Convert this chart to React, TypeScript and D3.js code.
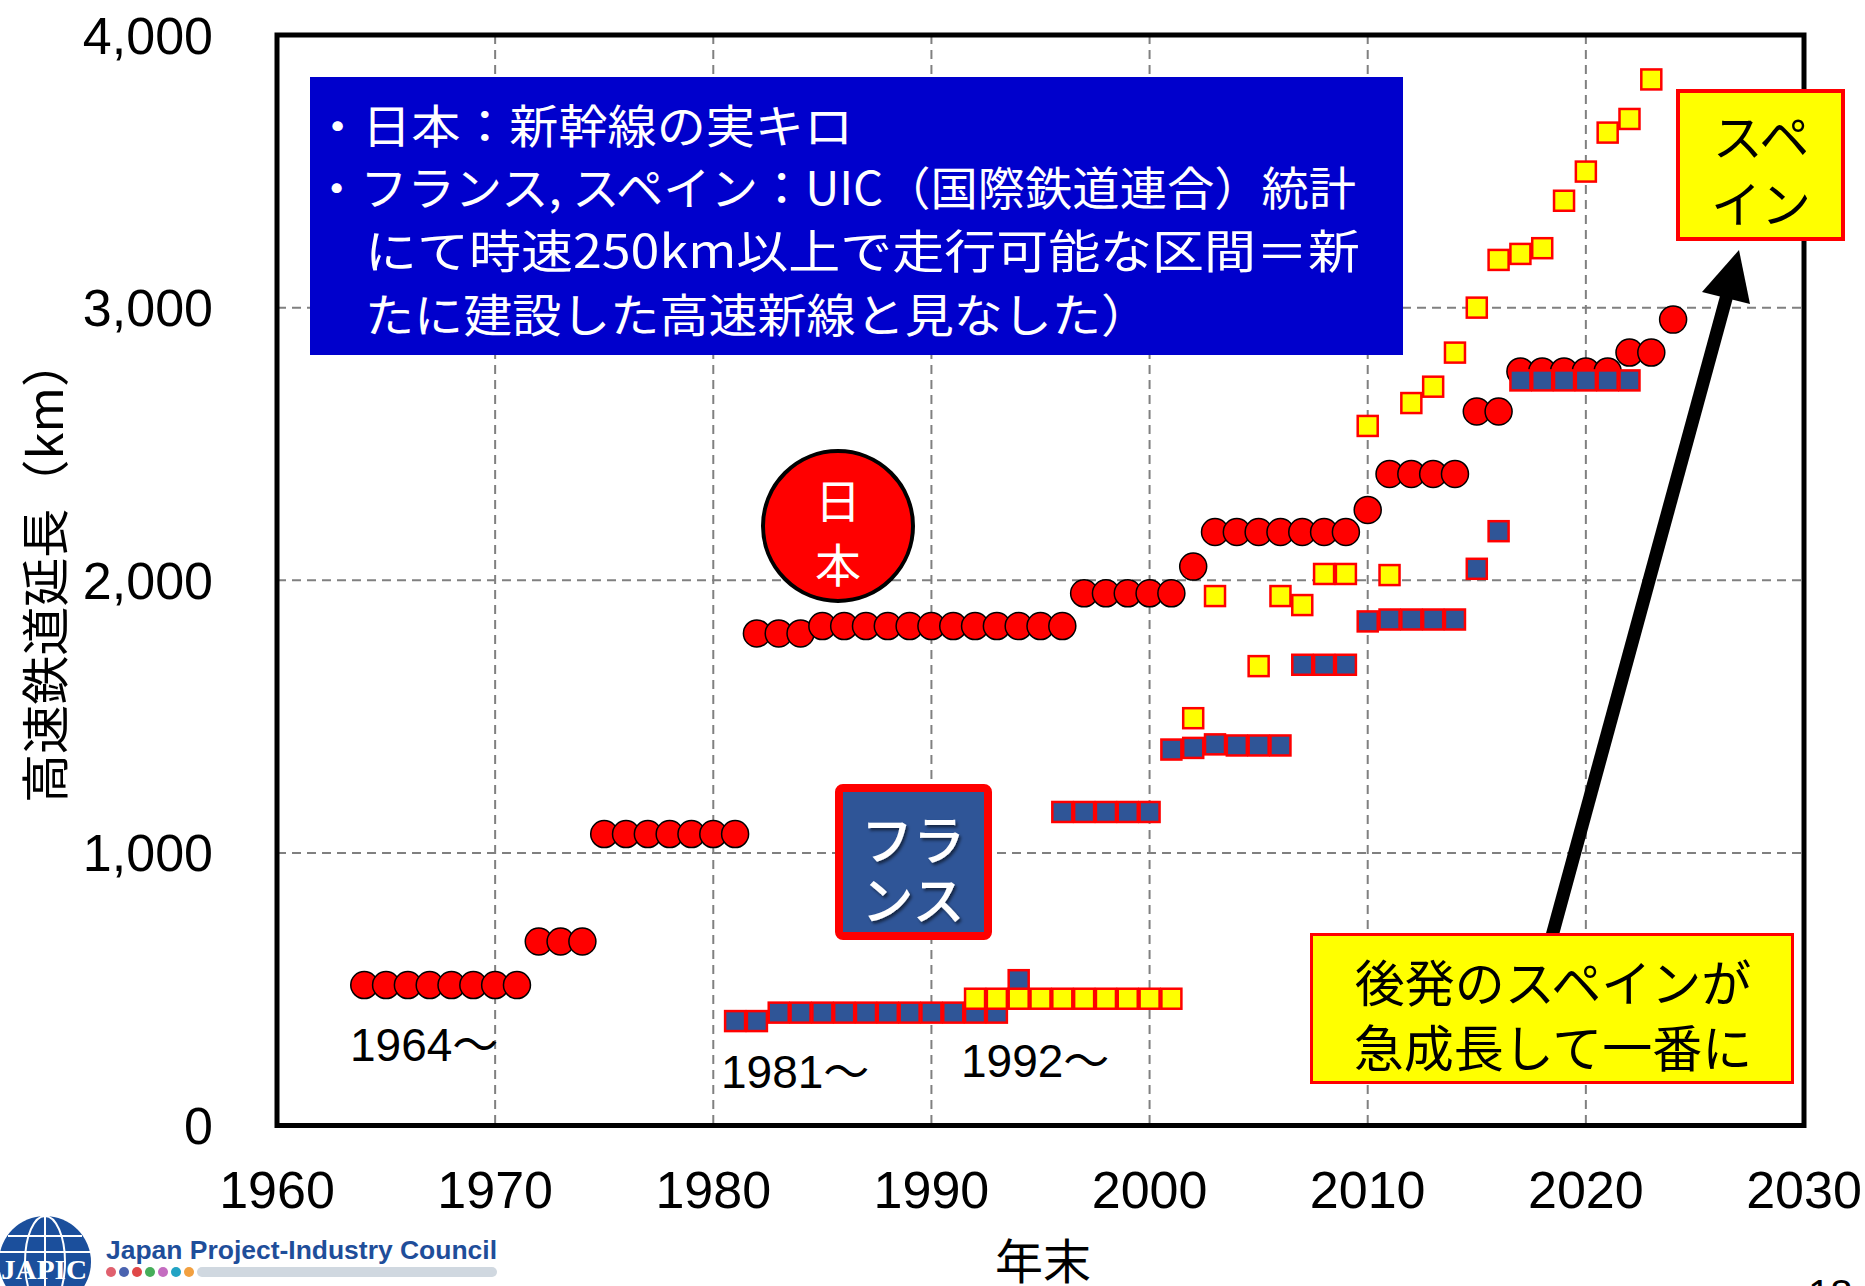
import React from "react";
import * as d3 from "d3";

// axis ticks
const yearTicks = [1960, 1970, 1980, 1990, 2000, 2010, 2020, 2030];
const kmTicks = [0, 1000, 2000, 3000, 4000];
const gridYears = [1970, 1980, 1990, 2000, 2010, 2020];
const gridKm = [1000, 2000, 3000];

// 日本 (新幹線 実キロ)
const japanYears = [
  1964, 1965, 1966, 1967, 1968, 1969, 1970, 1971, 1972, 1973, 1974, 1975, 1976,
  1977, 1978, 1979, 1980, 1981, 1982, 1983, 1984, 1985, 1986, 1987, 1988, 1989,
  1990, 1991, 1992, 1993, 1994, 1995, 1996, 1997, 1998, 1999, 2000, 2001, 2002,
  2003, 2004, 2005, 2006, 2007, 2008, 2009, 2010, 2011, 2012, 2013, 2014, 2015,
  2016, 2017, 2018, 2019, 2020, 2021, 2022, 2023, 2024,
];
const japanKm = [
  515, 515, 515, 515, 515, 515, 515, 515, 675, 675, 675, 1069, 1069,
  1069, 1069, 1069, 1069, 1069, 1805, 1805, 1805, 1832, 1832, 1832, 1832, 1832,
  1832, 1832, 1832, 1832, 1832, 1832, 1832, 1952, 1952, 1952, 1952, 1952, 2050,
  2177, 2177, 2177, 2177, 2177, 2177, 2177, 2258, 2390, 2390, 2390, 2390, 2619,
  2619, 2766, 2766, 2766, 2766, 2766, 2835, 2835, 2956,
];

// フランス (UIC)
const franceYears = [
  1981, 1982, 1983, 1984, 1985, 1986, 1987, 1988, 1989, 1990, 1991, 1992, 1993,
  1994, 1996, 1997, 1998, 1999, 2000, 2001, 2002, 2003, 2004, 2005, 2006, 2007,
  2008, 2009, 2010, 2011, 2012, 2013, 2014, 2015, 2016, 2017, 2018, 2019, 2020,
  2021, 2022,
];
const franceKm = [
  383, 383, 414, 414, 414, 414, 414, 414, 414, 414, 414, 414, 414,
  533, 1150, 1150, 1150, 1150, 1150, 1379, 1385, 1398, 1394, 1394, 1394, 1690,
  1690, 1690, 1849, 1856, 1856, 1856, 1856, 2042, 2180, 2733, 2733, 2733, 2733,
  2733, 2733,
];

// スペイン (UIC)
const spainYears = [
  1992, 1993, 1994, 1995, 1996, 1997, 1998, 1999, 2000, 2001, 2002, 2003, 2005,
  2006, 2007, 2008, 2009, 2010, 2011, 2012, 2013, 2014, 2015, 2016, 2017, 2018,
  2019, 2020, 2021, 2022, 2023,
];
const spainKm = [
  465, 465, 465, 465, 465, 465, 465, 465, 465, 465, 1494, 1942, 1685,
  1942, 1909, 2023, 2023, 2566, 2019, 2650, 2710, 2835, 3000, 3175, 3197, 3218,
  3392, 3499, 3642, 3692, 3837,
];

const noteLines = [
  "・日本：新幹線の実キロ",
  "・フランス, スペイン：UIC（国際鉄道連合）統計",
  "にて時速250km以上で走行可能な区間＝新",
  "たに建設した高速新線と見なした）",
];

const JP = "'Noto Sans CJK JP', 'Noto Sans CJK SC', sans-serif";
const LAT = "'Liberation Sans', Arial, 'Noto Sans CJK JP', sans-serif";

const x = d3.scaleLinear().domain([1960, 2030]).range([277, 1804]);
const y = d3.scaleLinear().domain([0, 4000]).range([1125.5, 35]);
const fmt = d3.format(",");

const App = () => {
  const sq = 20;
  const left = x.range()[0];
  const right = x.range()[1];
  const bottom = y.range()[0];
  const top = y.range()[1];

  return (
    <div style={{ position: "absolute", left: 0, top: 0 }}>
      <svg width={1865} height={1286} style={{ display: "block", background: "#fff" }}>
        <defs>
          <filter id="shadow" x="-20%" y="-20%" width="140%" height="140%">
            <feDropShadow dx="2" dy="2.5" stdDeviation="1.5" floodColor="#000" floodOpacity="0.55" />
          </filter>
        </defs>

        {/* grid */}
        {gridYears.map((g) => (
          <line key={"gx" + g} x1={x(g)} x2={x(g)} y1={top} y2={bottom}
            stroke="#808080" strokeWidth={2} strokeDasharray="9 6" />
        ))}
        {gridKm.map((g) => (
          <line key={"gy" + g} x1={left} x2={right} y1={y(g)} y2={y(g)}
            stroke="#808080" strokeWidth={2} strokeDasharray="9 6" />
        ))}

        {/* note box */}
        <rect x={310} y={77} width={1093} height={278} fill="#0000CC" />
        <g fill="#fff" fontFamily={JP} fontSize={46} dominantBaseline="central">
          <text x={313} y={123} textLength={540} lengthAdjust="spacingAndGlyphs">{noteLines[0]}</text>
          <text x={313} y={185} textLength={1043} lengthAdjust="spacingAndGlyphs">{noteLines[1]}</text>
          <text x={365} y={248} textLength={995} lengthAdjust="spacingAndGlyphs">{noteLines[2]}</text>
          <text x={365} y={312} textLength={785} lengthAdjust="spacingAndGlyphs">{noteLines[3]}</text>
        </g>

        {/* Japan */}
        {japanYears.map((yr, i) => (
          <circle key={"j" + yr} cx={x(yr)} cy={y(japanKm[i])} r={13.5}
            fill="#FF0000" stroke="#000" strokeWidth={1.5} />
        ))}
        {/* France */}
        {franceYears.map((yr, i) => (
          <rect key={"f" + yr} x={x(yr) - sq / 2} y={y(franceKm[i]) - sq / 2} width={sq} height={sq}
            fill="#2F5597" stroke="#FF0000" strokeWidth={2.5} />
        ))}
        {/* Spain */}
        {spainYears.map((yr, i) => (
          <rect key={"s" + yr} x={x(yr) - sq / 2} y={y(spainKm[i]) - sq / 2} width={sq} height={sq}
            fill="#FFFF00" stroke="#FF0000" strokeWidth={2.5} />
        ))}

        {/* frame */}
        <rect x={left} y={top} width={right - left} height={bottom - top}
          fill="none" stroke="#000" strokeWidth={5} />

        {/* axes labels */}
        <g fontFamily={LAT} fontSize={52} fill="#000">
          {kmTicks.map((t) => (
            <text key={"yt" + t} x={213} y={y(t) + 18.5} textAnchor="end">{fmt(t)}</text>
          ))}
          {yearTicks.map((t) => (
            <text key={"xt" + t} x={x(t)} y={1208} textAnchor="middle">{t}</text>
          ))}
        </g>
        <text x={1043} y={1279} textAnchor="middle" fontFamily={JP} fontSize={48}>年末</text>
        <text transform="translate(42,570.5) rotate(-90)" textAnchor="middle" dominantBaseline="central"
          fontFamily={JP} fontSize={48} textLength={465} lengthAdjust="spacingAndGlyphs">
          高速鉄道延長（km）
        </text>

        {/* start year labels */}
        <g fontFamily={LAT} fontSize={46} fill="#000">
          <text x={350} y={1061}>1964～</text>
          <text x={721} y={1088}>1981～</text>
          <text x={961} y={1077}>1992～</text>
        </g>

        {/* Japan label */}
        <circle cx={838} cy={526} r={75} fill="#FF0000" stroke="#000" strokeWidth={4} />
        <g fill="#fff" fontFamily={JP} fontSize={46} textAnchor="middle" dominantBaseline="central">
          <text x={838} y={498}>日</text>
          <text x={838} y={562}>本</text>
        </g>

        {/* France label */}
        <rect x={839} y={788} width={149} height={148} rx={4} fill="#2F5597" stroke="#FF0000" strokeWidth={8} />
        <g fill="#fff" fontFamily={JP} fontSize={52} fontWeight={500} textAnchor="middle"
          dominantBaseline="central" filter="url(#shadow)">
          <text x={913} y={837}>フラ</text>
          <text x={913} y={897}>ンス</text>
        </g>

        {/* arrow */}
        <line x1={1552} y1={936} x2={1727} y2={295} stroke="#000" strokeWidth={13} />
        <polygon points="1739,250 1750,304 1702,292" fill="#000" />

        {/* Spain label */}
        <rect x={1678} y={91} width={165} height={148} fill="#FFFF00" stroke="#FF0000" strokeWidth={4} />
        <g fill="#000" fontFamily={JP} fontSize={50} textAnchor="middle" dominantBaseline="central">
          <text x={1761} y={134}>スペ</text>
          <text x={1761} y={201}>イン</text>
        </g>

        {/* bottom callout */}
        <rect x={1311.5} y={934.5} width={481} height={148} fill="#FFFF00" stroke="#FF0000" strokeWidth={3} />
        <g fill="#000" fontFamily={JP} fontSize={50} textAnchor="middle" dominantBaseline="central">
          <text x={1553} y={980}>後発のスペインが</text>
          <text x={1553} y={1045}>急成長して一番に</text>
        </g>

        {/* logo */}
        <g>
          <circle cx={45} cy={1262} r={46} fill="#1B4F9C" />
          <ellipse cx={45} cy={1262} rx={20} ry={46} fill="none" stroke="#fff" strokeWidth={2} />
          <line x1={45} x2={45} y1={1216} y2={1308} stroke="#fff" strokeWidth={2} />
          <line x1={8} x2={82} y1={1236} y2={1236} stroke="#fff" strokeWidth={2} />
          <line x1={0} x2={90} y1={1252} y2={1252} stroke="#fff" strokeWidth={2} />
          <text x={44} y={1279} textAnchor="middle" fill="#fff" fontFamily="'Liberation Serif', serif"
            fontWeight="bold" fontSize={27} textLength={86} lengthAdjust="spacingAndGlyphs">JAPIC</text>
          <text x={106} y={1259} fill="#1F4E9A" fontFamily={LAT} fontWeight="bold" fontSize={25}
            textLength={391} lengthAdjust="spacingAndGlyphs">Japan Project-Industry Council</text>
          {["#E0606E", "#4A63B0", "#E04848", "#46AE5A", "#C46CC0", "#22A3C4", "#F2A040"].map((c, i) => (
            <circle key={c} cx={111 + i * 13} cy={1272} r={5} fill={c} />
          ))}
          <rect x={197} y={1267} width={300} height={10} rx={5} fill="#D0D8E0" />
        </g>

        {/* page number (cut off) */}
        <text x={1808} y={1308} fontFamily={LAT} fontSize={40} fill="#000">18</text>
      </svg>
    </div>
  );
};

export default App;
